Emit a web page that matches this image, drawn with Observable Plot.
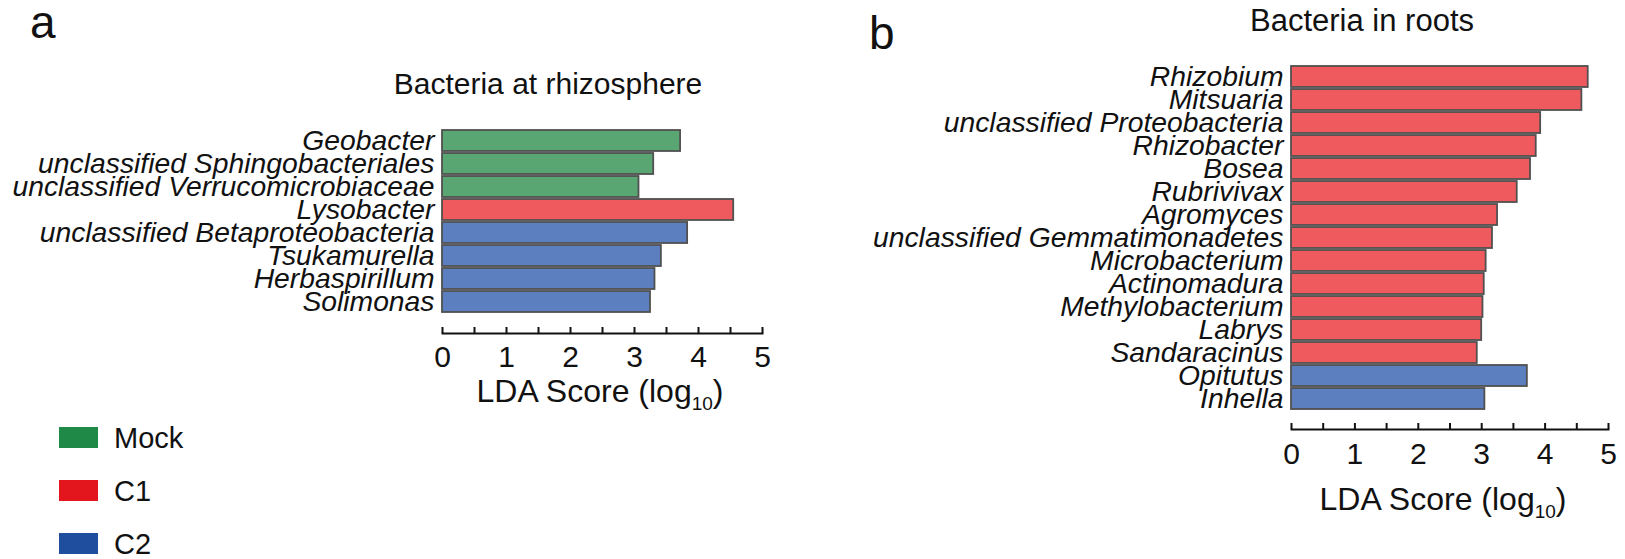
<!DOCTYPE html>
<html>
<head>
<meta charset="utf-8">
<script src="https://cdn.jsdelivr.net/npm/d3@7"></script>
<script src="https://cdn.jsdelivr.net/npm/@observablehq/plot@0.6"></script>
<style>
  html, body { margin: 0; padding: 0; background: #fff; }
  #wrap { position: relative; width: 1625px; height: 559px; overflow: hidden; font-family: "Liberation Sans", Arial, sans-serif; }
</style>
</head>
<body>
<div id="wrap"></div>
<script>
// ---- data ----
const groupNames = ["Mock", "C1", "C2"];
const barColors = ["#5aa672", "#ef5a5e", "#5c7fbf"];
const legendColors = ["#1f8a47", "#e3161d", "#1f4e9f"];

const rhizoNames = ["Geobacter", "unclassified Sphingobacteriales", "unclassified Verrucomicrobiaceae", "Lysobacter",
  "unclassified Betaproteobacteria", "Tsukamurella", "Herbaspirillum", "Solimonas"];
const rhizoValues = [3.72, 3.30, 3.07, 4.55, 3.83, 3.42, 3.32, 3.25];
const rhizoGroups = ["Mock", "Mock", "Mock", "C1", "C2", "C2", "C2", "C2"];

const rootNames = ["Rhizobium", "Mitsuaria", "unclassified Proteobacteria", "Rhizobacter", "Bosea", "Rubrivivax",
  "Agromyces", "unclassified Gemmatimonadetes", "Microbacterium", "Actinomadura", "Methylobacterium", "Labrys",
  "Sandaracinus", "Opitutus", "Inhella"];
const rootValues = [4.68, 4.58, 3.93, 3.86, 3.77, 3.56, 3.25, 3.17, 3.07, 3.04, 3.02, 3.00, 2.93, 3.72, 3.05];
const rootGroups = ["C1", "C1", "C1", "C1", "C1", "C1", "C1", "C1", "C1", "C1", "C1", "C1", "C1", "C2", "C2"];

const xTickLabels = [0, 1, 2, 3, 4, 5];
const xTickMarks = [0, 0.5, 1, 1.5, 2, 2.5, 3, 3.5, 4, 4.5, 5];

const titleA = "Bacteria at rhizosphere";
const titleB = "Bacteria in roots";
const axisTitle = "LDA Score (log";
const axisSub = "10";

// ---- chart builder ----
function panel({names, values, groups, left, width, marginLeft, marginRight, yRange, axisY, tickPad}) {
  const data = names.map((n, i) => ({name: n, value: values[i], group: groups[i]}));
  const height = 559;
  const marginTop = 20;
  const marginBottom = height - axisY;
  const chart = Plot.plot({
    width, height, marginLeft, marginRight, marginTop, marginBottom,
    style: {fontFamily: '"Liberation Sans", Arial, sans-serif', color: "#111", background: "transparent", overflow: "visible"},
    x: {domain: [0, 5]},
    y: {domain: names, range: yRange, padding: 0.07},
    color: {domain: groupNames, range: barColors},
    marks: [
      Plot.barX(data, {x: "value", y: "name", fill: "group", stroke: "#505050", strokeWidth: 1.8}),
      Plot.axisY({tickSize: 0, tickPadding: 8, fontSize: 28.3, fontStyle: "italic", label: null}),
      Plot.frame({anchor: "bottom", stroke: "#111", strokeWidth: 2}),
      Plot.ruleX(xTickMarks, {x: d => d, insetTop: axisY - marginTop - 6, stroke: "#111", strokeWidth: 2}),
      Plot.axisX({ticks: xTickLabels, tickFormat: d => String(d), tickSize: 0, tickPadding: tickPad, fontSize: 30, label: null})
    ]
  });
  chart.style.position = "absolute";
  chart.style.left = left + "px";
  chart.style.top = "0px";
  return chart;
}

const wrap = document.getElementById("wrap");
wrap.appendChild(panel({names: rhizoNames, values: rhizoValues, groups: rhizoGroups,
  left: 0, width: 800, marginLeft: 442, marginRight: 38, yRange: [125, 317], axisY: 333, tickPad: 12}));
wrap.appendChild(panel({names: rootNames, values: rootValues, groups: rootGroups,
  left: 800, width: 825, marginLeft: 491, marginRight: 17, yRange: [59, 416], axisY: 429, tickPad: 13}));

// ---- overlay: panel letters, titles, axis titles, legend ----
const ov = d3.select(wrap).append("svg")
  .attr("width", 1625).attr("height", 559)
  .style("position", "absolute").style("left", "0px").style("top", "0px")
  .style("pointer-events", "none")
  .style("font-family", '"Liberation Sans", Arial, sans-serif')
  .attr("fill", "#111");

ov.append("text").attr("x", 30).attr("y", 38).attr("font-size", 46).text("a");
ov.append("text").attr("x", 869).attr("y", 49).attr("font-size", 46).text("b");
ov.append("text").attr("x", 548).attr("y", 94).attr("font-size", 30).attr("text-anchor", "middle").text(titleA);
ov.append("text").attr("x", 1362).attr("y", 31).attr("font-size", 31).attr("text-anchor", "middle").text(titleB);

function axisLabel(cx, baseline) {
  const t = ov.append("text").attr("x", cx).attr("y", baseline).attr("font-size", 32).attr("text-anchor", "middle");
  t.append("tspan").text(axisTitle);
  t.append("tspan").attr("font-size", 19).attr("dy", 8).text(axisSub);
  t.append("tspan").attr("dy", -8).text(")");
}
axisLabel(600, 402);
axisLabel(1443, 510);

const legendTops = [427, 480, 533];
groupNames.forEach((g, i) => {
  ov.append("rect").attr("x", 59).attr("y", legendTops[i]).attr("width", 39).attr("height", 21).attr("fill", legendColors[i]);
  ov.append("text").attr("x", 114).attr("y", legendTops[i] + 21).attr("font-size", 29).text(g);
});
</script>
</body>
</html>
